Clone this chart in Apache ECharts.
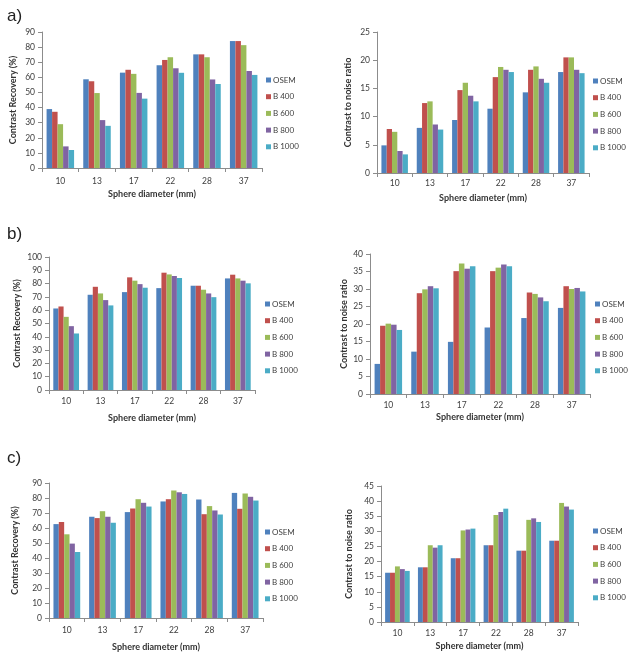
<!DOCTYPE html>
<html><head><meta charset="utf-8">
<script src="https://cdn.jsdelivr.net/npm/echarts@6/dist/echarts.min.js"></script>
<style>html,body{margin:0;padding:0;background:#fff}#c{width:629px;height:656px}</style>
</head><body><div id="c"></div>
<script>
var categories = ['10','13','17','22','28','37'];
var seriesNames = ['OSEM','B 400','B 600','B 800','B 1000'];
var colors = ['#4F81BD','#C0504D','#9BBB59','#8064A2','#4BACC6'];

// a) Contrast recovery
var aCR_OSEM  = [39, 58.7, 63.1, 68, 75.2, 84];
var aCR_B400  = [37.2, 57.4, 65, 71.5, 75.2, 84];
var aCR_B600  = [29, 49.6, 62.3, 73.3, 73.3, 81.3];
var aCR_B800  = [14.3, 31.7, 49.7, 66, 58.6, 64.2];
var aCR_B1000 = [11.9, 27.9, 45.9, 63, 55.6, 61.6];
// a) Contrast to noise ratio
var aCNR_OSEM  = [4.9, 8.0, 9.4, 11.4, 14.3, 17.9];
var aCNR_B400  = [7.8, 12.4, 14.7, 17.0, 18.3, 20.5];
var aCNR_B600  = [7.3, 12.7, 16.0, 18.8, 18.9, 20.5];
var aCNR_B800  = [3.9, 8.6, 13.7, 18.3, 16.7, 18.3];
var aCNR_B1000 = [3.3, 7.7, 12.7, 17.9, 16.0, 17.7];
// b) Contrast recovery
var bCR_OSEM  = [61.3, 71.6, 73.6, 76.6, 78.4, 83.9];
var bCR_B400  = [62.8, 77.6, 84.7, 88.2, 78.4, 86.7];
var bCR_B600  = [55, 72.6, 82.2, 86.9, 75.4, 83.9];
var bCR_B800  = [48, 67.6, 79.6, 85.7, 72.6, 82.2];
var bCR_B1000 = [42.5, 63.6, 76.9, 84.2, 69.8, 80.2];
// b) Contrast to noise ratio
var bCNR_OSEM  = [8.6, 12.1, 14.9, 19.0, 21.7, 24.6];
var bCNR_B400  = [19.5, 28.8, 35.1, 35.1, 29.0, 30.8];
var bCNR_B600  = [20.1, 29.9, 37.3, 36.1, 28.6, 30.0];
var bCNR_B800  = [19.8, 30.8, 35.8, 37.0, 27.6, 30.3];
var bCNR_B1000 = [18.3, 30.2, 36.5, 36.5, 26.5, 29.3];
// c) Contrast recovery
var cCR_OSEM  = [62.6, 67.5, 70.6, 77.7, 79, 83.4];
var cCR_B400  = [64, 66.6, 73, 79.2, 69.2, 72.8];
var cCR_B600  = [55.8, 71.2, 79.2, 85, 74.6, 83];
var cCR_B800  = [49.6, 67.5, 76.8, 83.8, 71.7, 80.8];
var cCR_B1000 = [44, 63.5, 74.3, 82.7, 69, 78.3];
// c) Contrast to noise ratio
var cCNR_OSEM  = [16.3, 18.1, 21.1, 25.4, 23.6, 26.9];
var cCNR_B400  = [16.3, 18.1, 21.1, 25.4, 23.6, 26.9];
var cCNR_B600  = [18.4, 25.4, 30.3, 35.4, 33.8, 39.4];
var cCNR_B800  = [17.5, 24.6, 30.6, 36.4, 34.3, 38.2];
var cCNR_B1000 = [16.9, 25.4, 30.9, 37.5, 33.1, 37.2];

var yTitleCR = 'Contrast Recovery (%)';
var yTitleCNR = 'Contrast to noise ratio';
var xTitle = 'Sphere diameter (mm)';
var panelLabels = ['a)','b)','c)'];

var panels = [
  {data:[aCR_OSEM,aCR_B400,aCR_B600,aCR_B800,aCR_B1000], max:90, interval:10, yTitle:yTitleCR,
   grid:{left:42,top:32,width:220,height:136}, legend:{left:266,top:75}, xGap:22, xMargin:9, yGap:24},
  {data:[aCNR_OSEM,aCNR_B400,aCNR_B600,aCNR_B800,aCNR_B1000], max:25, interval:5, yTitle:yTitleCNR,
   grid:{left:377,top:32,width:212,height:141}, legend:{left:593,top:76}, xGap:21, xMargin:6, yGap:24},
  {data:[bCR_OSEM,bCR_B400,bCR_B600,bCR_B800,bCR_B1000], max:100, interval:10, yTitle:yTitleCR,
   grid:{left:49,top:257,width:206,height:133}, legend:{left:265,top:299}, xGap:24, xMargin:7, yGap:27},
  {data:[bCNR_OSEM,bCNR_B400,bCNR_B600,bCNR_B800,bCNR_B1000], max:40, interval:5, yTitle:yTitleCNR,
   grid:{left:370,top:254,width:220,height:140}, legend:{left:595,top:299}, xGap:19, xMargin:7, yGap:21},
  {data:[cCR_OSEM,cCR_B400,cCR_B600,cCR_B800,cCR_B1000], max:90, interval:10, yTitle:yTitleCR,
   grid:{left:49,top:483,width:214,height:135}, legend:{left:265,top:527}, xGap:25, xMargin:8, yGap:29},
  {data:[cCNR_OSEM,cCNR_B400,cCNR_B600,cCNR_B800,cCNR_B1000], max:45, interval:5, yTitle:yTitleCNR,
   grid:{left:381,top:486,width:197,height:136}, legend:{left:593,top:526}, xGap:20, xMargin:7, yGap:27}
];

var FONT = 'Lato';
var axisColor = '#8c8c8c';
var textColor = '#404040';

var option = {
  animation:false,
  backgroundColor:'#fff',
  color: colors,
  grid:[], xAxis:[], yAxis:[], series:[], legend:[],
  title: panelLabels.map(function(t,i){
    return {text:t, left:2, top:[3,221,445][i], textStyle:{fontFamily:'Liberation Sans', fontSize:17, fontWeight:'normal', color:'#222'}};
  })
};

panels.forEach(function(p, i){
  option.grid.push({left:p.grid.left, top:p.grid.top, width:p.grid.width, height:p.grid.height, containLabel:false});
  option.xAxis.push({
    type:'category', gridIndex:i, data:categories,
    name:xTitle, nameLocation:'middle', nameGap:p.xGap,
    nameTextStyle:{fontFamily:FONT, fontSize:9, fontWeight:'bold', color:'#333'},
    axisLine:{lineStyle:{color:axisColor, width:1}},
    axisTick:{show:true, length:4, alignWithLabel:false, lineStyle:{color:axisColor}},
    axisLabel:{fontFamily:FONT, fontSize:8.5, color:textColor, margin:p.xMargin},
    splitLine:{show:false}
  });
  option.yAxis.push({
    type:'value', gridIndex:i, min:0, max:p.max, interval:p.interval,
    name:p.yTitle, nameLocation:'middle', nameGap:p.yGap, nameRotate:90,
    nameTextStyle:{fontFamily:FONT, fontSize:9, fontWeight:'bold', color:'#333'},
    axisLine:{show:true, lineStyle:{color:axisColor, width:1}},
    axisTick:{show:true, length:4, lineStyle:{color:axisColor}},
    axisLabel:{fontFamily:FONT, fontSize:8.5, color:textColor, margin:7},
    splitLine:{show:false}
  });
  option.legend.push({
    orient:'vertical', left:p.legend.left, top:p.legend.top,
    data:seriesNames, itemWidth:5, itemHeight:5, itemGap:6.7,
    icon:'rect', padding:0,
    textStyle:{fontFamily:FONT, fontSize:8, color:textColor, lineHeight:10, padding:[0,0,0,-3]}
  });
  p.data.forEach(function(arr, k){
    option.series.push({
      type:'bar', name:seriesNames[k], xAxisIndex:i, yAxisIndex:i,
      data:arr, barGap:'0%', barCategoryGap:'25%',
      itemStyle:{color:colors[k]}
    });
  });
});

var chart = echarts.init(document.getElementById('c'), null, {renderer:'canvas'});
chart.setOption(option);
</script></body></html>
